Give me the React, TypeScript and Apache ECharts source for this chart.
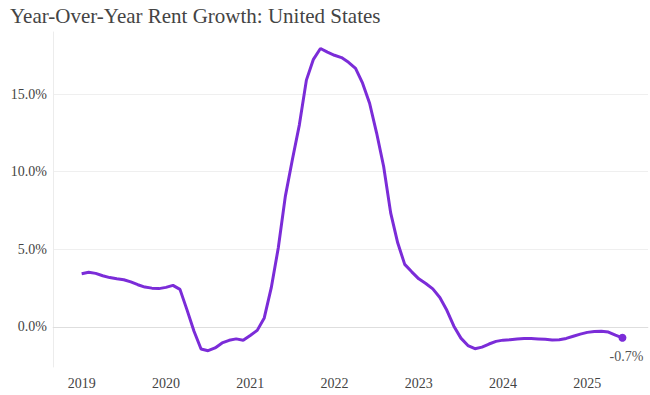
import React, { useEffect, useRef } from "react";
import * as echarts from "echarts";

const TITLE = "Year-Over-Year Rent Growth: United States";
const START_YEAR = 2019;
const rent2019 = [3.43, 3.52, 3.45, 3.3, 3.18, 3.1, 3.04, 2.9, 2.72, 2.57, 2.5, 2.47];
const rent2020 = [2.55, 2.68, 2.42, 1.1, -0.28, -1.42, -1.53, -1.35, -1.03, -0.86, -0.77, -0.86];
const rent2021 = [-0.55, -0.22, 0.58, 2.53, 5.1, 8.41, 10.77, 13.02, 15.9, 17.24, 17.94, 17.7];
const rent2022 = [17.5, 17.35, 17.05, 16.66, 15.7, 14.41, 12.49, 10.34, 7.35, 5.42, 4.03, 3.55];
const rent2023 = [3.1, 2.8, 2.45, 1.9, 1.07, 0.05, -0.72, -1.2, -1.4, -1.3, -1.1, -0.93];
const rent2024 = [-0.85, -0.82, -0.78, -0.75, -0.75, -0.77, -0.8, -0.84, -0.82, -0.74, -0.6, -0.46];
const rent2025 = [-0.35, -0.29, -0.28, -0.33, -0.53, -0.7];
const yearTicks = [2019, 2020, 2021, 2022, 2023, 2024, 2025];
const yTicks = [0, 5, 10, 15];
const LAST_LABEL = "-0.7%";

const FONT = "'Liberation Serif', 'Times New Roman', serif";
const LINE_COLOR = "#7b2cd8";

export default function App() {
  const ref = useRef<HTMLDivElement>(null);
  useEffect(() => {
    document.body.style.margin = "0";
    if (!ref.current) return;
    const chart = echarts.init(ref.current, undefined, { renderer: "svg" });
    const years = [rent2019, rent2020, rent2021, rent2022, rent2023, rent2024, rent2025];
    const data: [number, number][] = [];
    years.forEach((arr, yi) => {
      arr.forEach((v, m) => data.push([START_YEAR + yi + m / 12, v]));
    });
    const last = data[data.length - 1];
    chart.setOption({
      animation: false,
      backgroundColor: "#fff",
      title: {
        text: TITLE,
        left: 5,
        top: 0,
        textStyle: { fontFamily: FONT, fontSize: 21, fontWeight: "normal", color: "#444" },
      },
      grid: { left: 53, right: 2, top: 32, bottom: 28, containLabel: false },
      xAxis: {
        type: "value",
        min: 2018.66,
        max: 2025.72,
        axisLine: { show: true, lineStyle: { color: "#ececec" } },
        axisTick: { show: false, customValues: yearTicks },
        splitLine: { show: false },
        axisLabel: {
          customValues: yearTicks,
          formatter: (v: number) => String(Math.round(v)),
          fontFamily: FONT,
          fontSize: 14,
          color: "#444",
          margin: 9,
        },
      },
      yAxis: {
        type: "value",
        min: -2.58,
        max: 19,
        axisLine: { show: true, lineStyle: { color: "#ececec" } },
        axisTick: { show: false, customValues: yTicks },
        splitLine: { show: true, lineStyle: { color: "#efefef", width: 1 } },
        axisLabel: {
          customValues: yTicks,
          formatter: (v: number) => v.toFixed(1) + "%",
          fontFamily: FONT,
          fontSize: 14,
          color: "#444",
          margin: 6,
        },
      },
      series: [
        {
          type: "line",
          data,
          showSymbol: false,
          symbol: "none",
          lineStyle: { color: LINE_COLOR, width: 3 },
          markLine: {
            silent: true,
            symbol: "none",
            label: { show: false },
            lineStyle: { color: "#dedede", width: 1, type: "solid" },
            data: [{ yAxis: 0 }],
            z: 1,
          },
          z: 3,
        },
        {
          type: "scatter",
          data: [last],
          symbol: "circle",
          symbolSize: 8,
          itemStyle: { color: LINE_COLOR, opacity: 1 },
          label: {
            show: true,
            position: "bottom",
            distance: 8,
            offset: [4, 0],
            formatter: LAST_LABEL,
            fontFamily: FONT,
            fontSize: 14,
            color: "#555",
          },
          z: 4,
        },
      ],
    });
    return () => chart.dispose();
  }, []);
  return <div ref={ref} style={{ width: 650, height: 395 }} />;
}
